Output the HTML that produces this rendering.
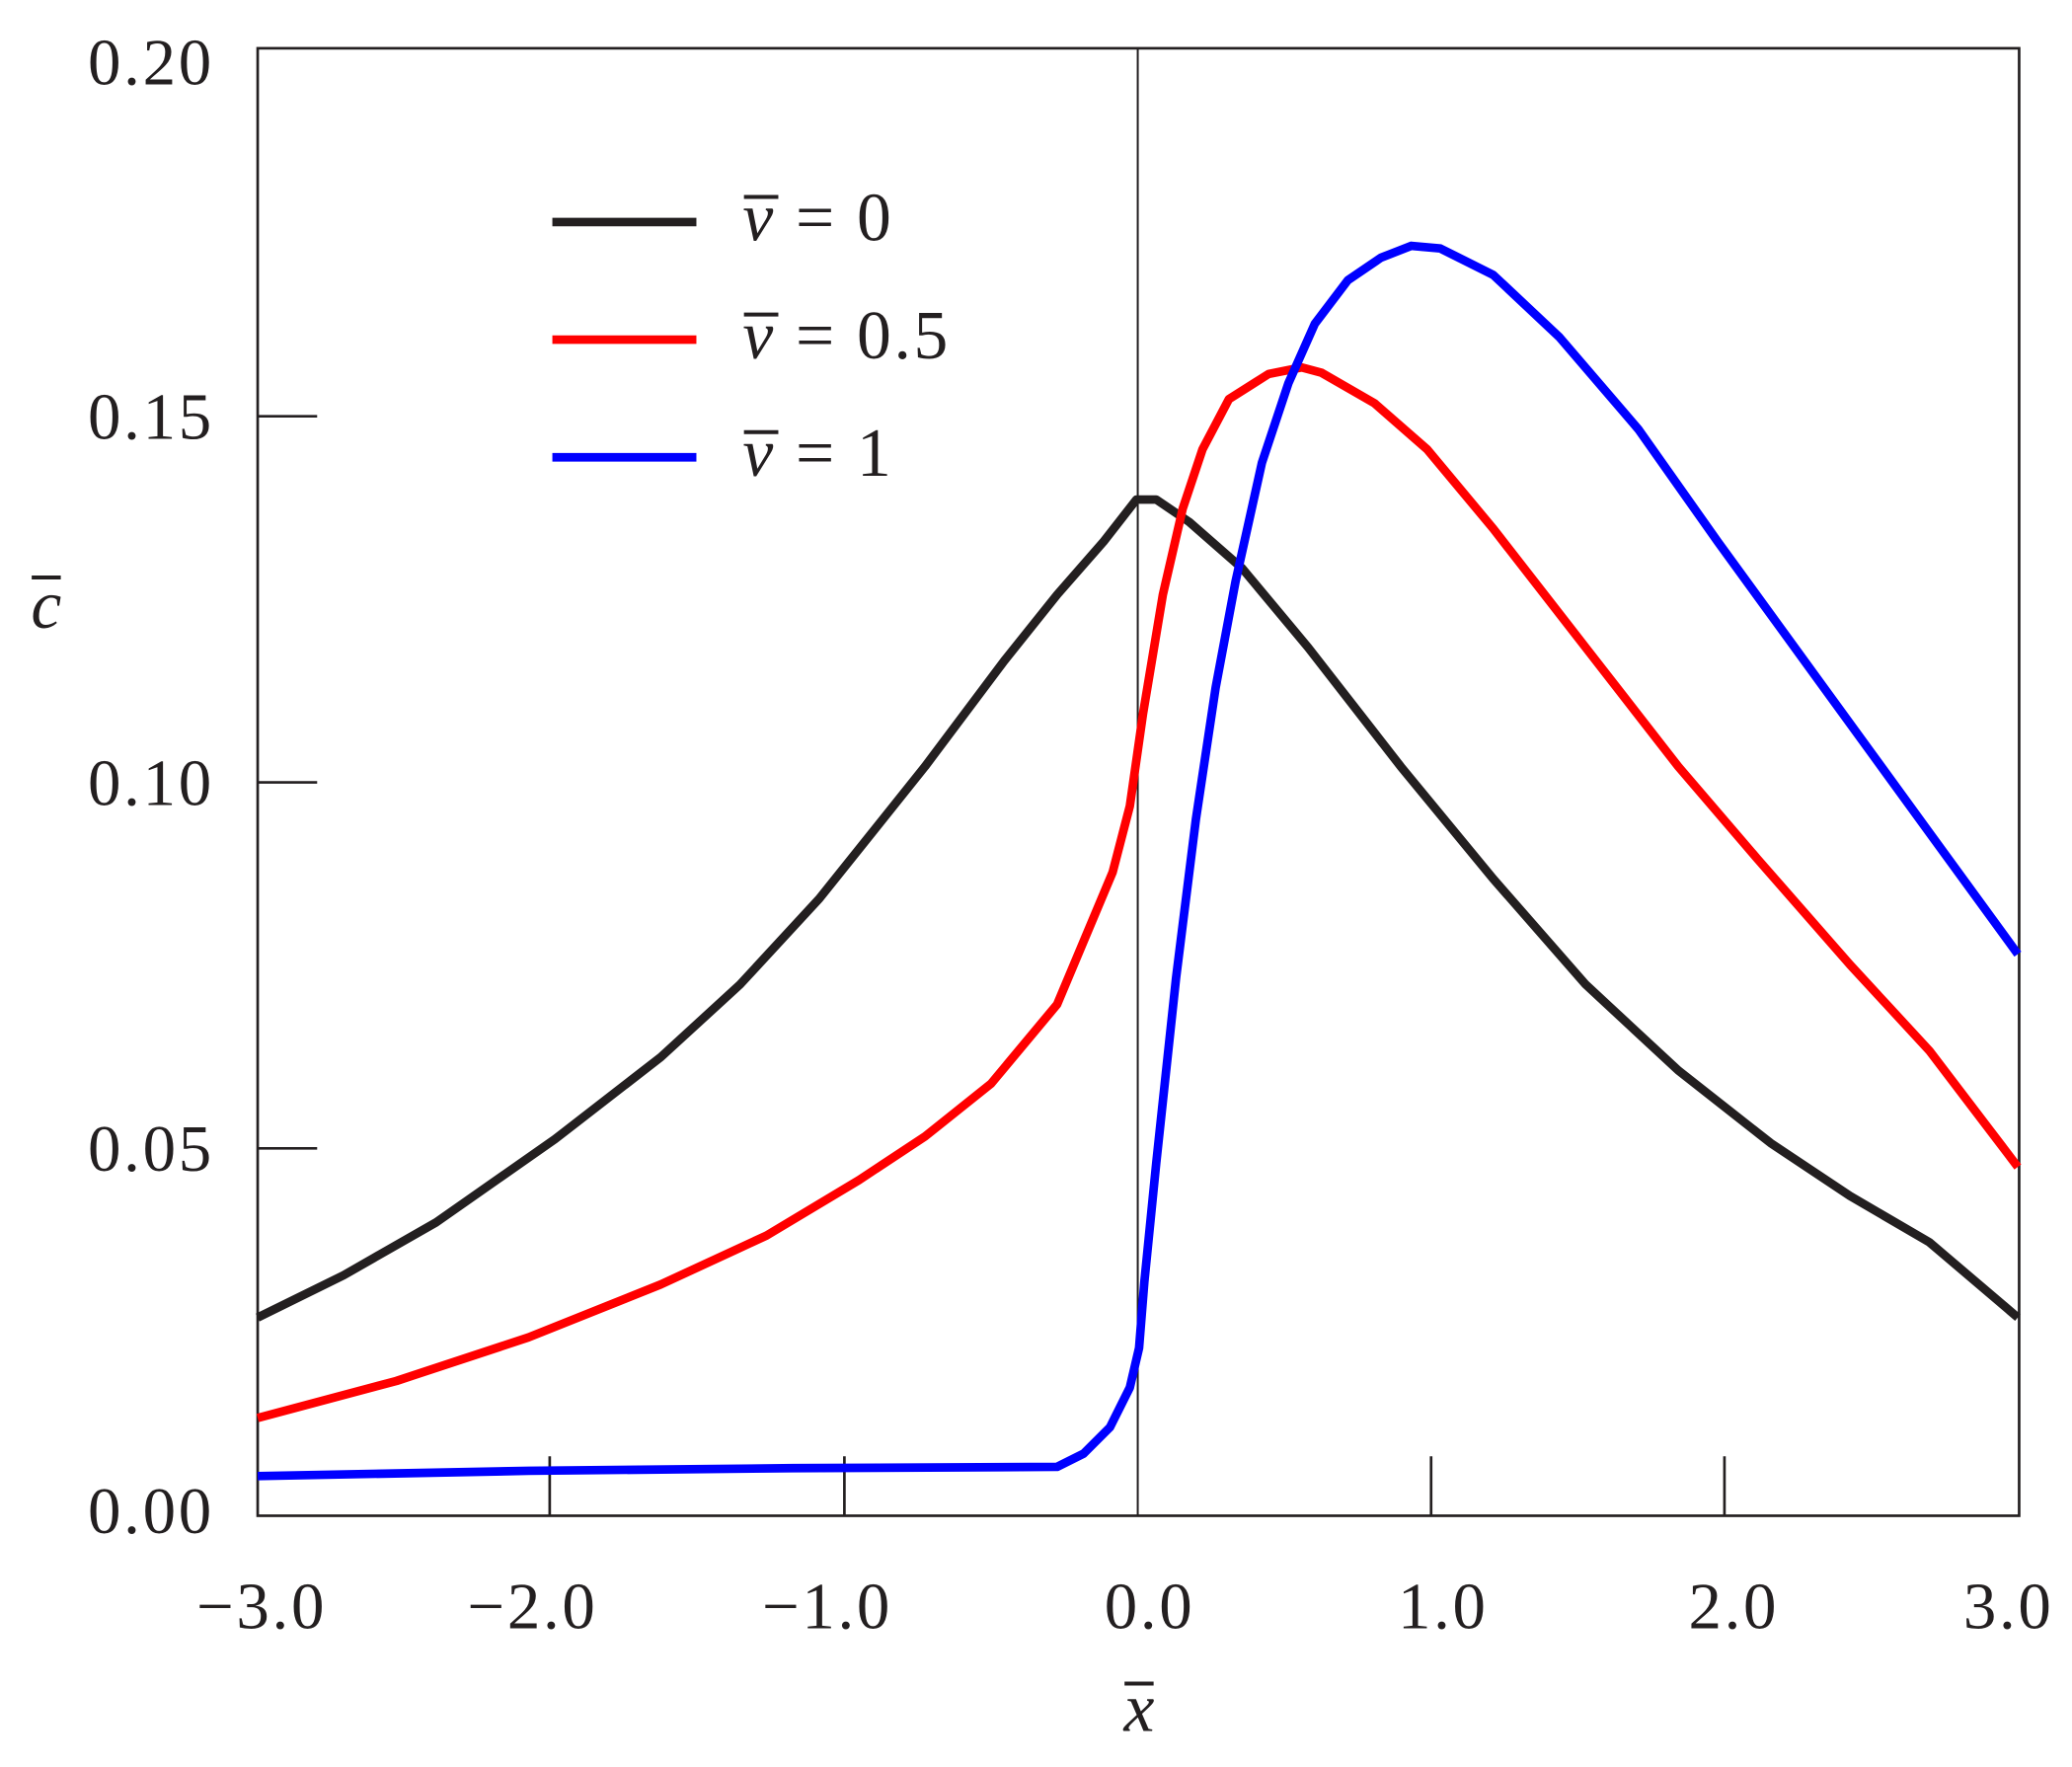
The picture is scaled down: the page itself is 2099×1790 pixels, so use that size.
<!DOCTYPE html>
<html><head><meta charset="utf-8"><style>html,body{margin:0;padding:0;background:#fff}svg{display:block}</style></head>
<body>
<svg width="2099" height="1790" viewBox="0 0 1568 1337.1" xmlns="http://www.w3.org/2000/svg" font-family="Liberation Serif, serif" fill="#231f20">
<rect width="1568" height="1337.1" fill="#fff"/>
<g stroke="#231f20" stroke-width="2" fill="none">
<rect x="195" y="36.5" width="1333" height="1110.5"/>
<line x1="861" y1="36.5" x2="861" y2="1147" stroke-width="1.5"/>
<path d="M195 315H240M195 592H240M195 869H240M416 1147V1102M639 1147V1102M1083 1147V1102M1305 1147V1102"/>
</g>
<g font-size="50" text-anchor="end" letter-spacing="2">
<text x="162" y="64">0.20</text><text x="162" y="332">0.15</text><text x="162" y="609">0.10</text><text x="162" y="886">0.05</text><text x="162" y="1160">0.00</text>
</g>
<g font-size="50" text-anchor="middle" letter-spacing="2">
<text x="198" y="1232">−3.0</text><text x="403" y="1232">−2.0</text><text x="626" y="1232">−1.0</text><text x="870" y="1232">0.0</text><text x="1092" y="1232">1.0</text><text x="1312" y="1232">2.0</text><text x="1520" y="1232">3.0</text>
</g>
<g font-size="52" text-anchor="middle" font-style="italic">
<text x="862" y="1310">x</text><text x="35" y="475">c</text>
</g>
<path d="M851 1274h22M24 437h22" stroke="#231f20" stroke-width="3"/>
<g fill="none" stroke-width="6.5" stroke-linejoin="round">
<polyline stroke="#231f20" points="195,997 260,965 330,925 420,862 500,800 560,745 620,680 700,580 760,500 800,450 835,410 860,378 875,378 900,395 940,430 990,490 1060,580 1130,665 1200,745 1270,810 1340,865 1400,905 1460,940 1527,997"/>
<polyline stroke="#ff0000" points="195,1073 300,1045 400,1012 500,972 580,935 650,893 700,860 750,820 800,760 842,660 855,610 865,540 880,450 895,385 910,340 930,302 960,283 985,278 1000,282 1040,305 1080,340 1130,400 1200,490 1270,580 1330,650 1400,730 1460,795 1527,883"/>
<polyline stroke="#0000ff" points="195,1117 400,1113 600,1111 800,1110 820,1100 840,1080 855,1050 862,1020 866,970 875,880 890,740 905,620 920,520 935,440 955,350 975,290 995,245 1020,212 1045,195 1068,186 1090,188 1130,208 1180,255 1240,325 1300,410 1380,520 1460,630 1527,722"/>
<path d="M418 168H527" stroke="#231f20"/><path d="M418 257H527" stroke="#ff0000"/><path d="M418 346H527" stroke="#0000ff"/>
</g>
<g font-size="52" letter-spacing="2">
<text x="562" y="182"><tspan font-style="italic">v</tspan> = 0</text>
<text x="562" y="271"><tspan font-style="italic">v</tspan> = 0.5</text>
<text x="562" y="360"><tspan font-style="italic">v</tspan> = 1</text>
</g>
<path d="M563 149h26M563 238h26M563 327h26" stroke="#231f20" stroke-width="3"/>
</svg>
</body></html>
